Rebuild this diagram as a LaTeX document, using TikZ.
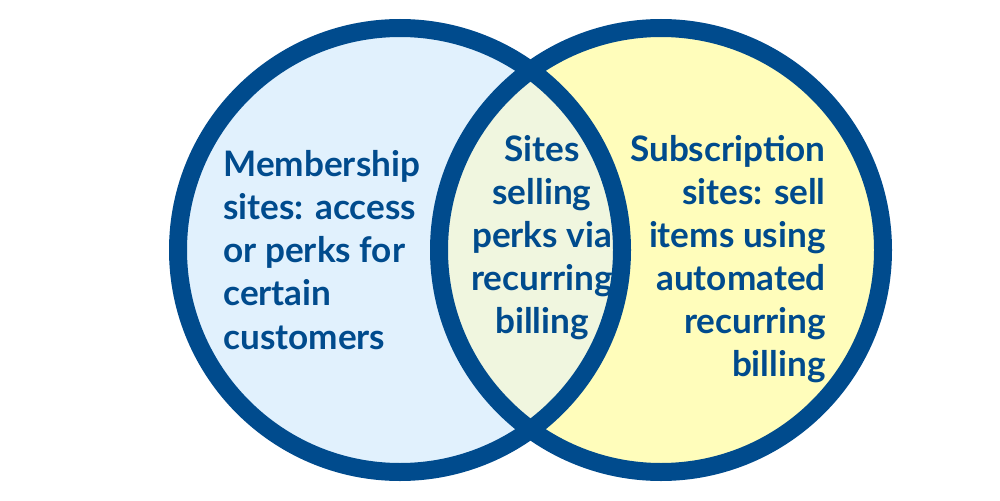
\documentclass[tikz,border=0pt]{standalone}
\usepackage{fontspec}
\setmainfont{Lato}
\definecolor{ringblue}{HTML}{004B8D}
\definecolor{memberfill}{HTML}{E1F1FD}
\definecolor{subfill}{HTML}{FFFDBB}
\definecolor{bothfill}{HTML}{F0F6DF}
\begin{document}
\begin{tikzpicture}[x=0.02cm,y=-0.02cm,
    ring/.style={draw=ringblue, line width=18*0.02cm},
    vennlabel/.style={text=ringblue, font=\bfseries\fontsize{20}{24.5}\selectfont, inner sep=0pt}
  ]
  \useasboundingbox (0,0) rectangle (1000,500);
  \coordinate (member) at (400,250);
  \coordinate (sub) at (661,250);
  % fills
  \fill[memberfill] (member) circle (222);
  \fill[subfill] (sub) circle (222);
  \begin{scope}
    \clip (member) circle (222);
    \fill[bothfill] (sub) circle (222);
  \end{scope}
  % rings
  \draw[ring] (member) circle (222);
  \draw[ring] (sub) circle (222);
  % labels
  \node[vennlabel, align=left, anchor=west] (memberlabel) at (223,250)
    {Membership\\sites: access\\or perks for\\certain\\customers};
  \node[vennlabel, align=center] (bothlabel) at (542,238)
    {Sites\\selling\\perks via\\recurring\\billing};
  \node[vennlabel, align=right, anchor=east] (sublabel) at (826,259)
    {Subscription\\sites: sell\\items using\\automated\\recurring\\billing};
\end{tikzpicture}
\end{document}
